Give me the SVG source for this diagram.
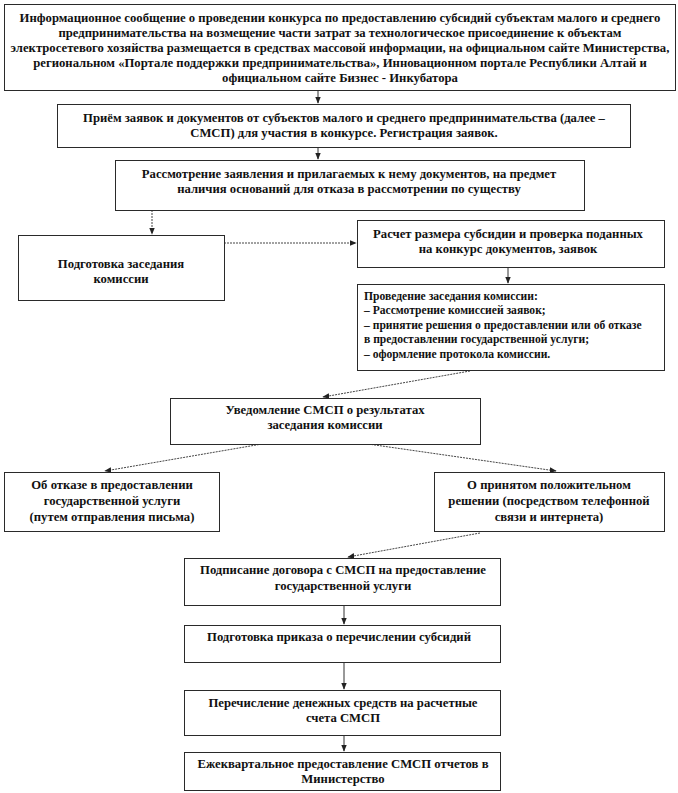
<svg xmlns="http://www.w3.org/2000/svg" width="678" height="793" viewBox="0 0 678 793">
<style>
.box{fill:#fff;stroke:#2a2a2a;stroke-width:1}
.t{font-family:"Liberation Serif","Times New Roman",serif;font-weight:bold;font-size:12.7px;fill:#111}
.s{font-size:11.6px}
.c{text-anchor:middle}
.ln{fill:none;stroke:#333;stroke-width:1}
.dl{fill:none;stroke:#444;stroke-width:1;stroke-dasharray:2 1}
</style>
<defs>
<marker id="ah" viewBox="0 0 10 10" refX="9" refY="5" markerWidth="7" markerHeight="7" orient="auto" markerUnits="userSpaceOnUse">
<path d="M0,1 L10,5 L0,9 Z" fill="#222"/>
</marker>
</defs>
<rect width="678" height="793" fill="#fff"/>
<g id="connectors">
<line class="ln" x1="318" y1="91" x2="318" y2="103" marker-end="url(#ah)"/>
<line class="ln" x1="318" y1="148" x2="318" y2="159" marker-end="url(#ah)"/>
<polyline class="dl" points="152,210 152,234" marker-end="url(#ah)"/>
<line class="dl" x1="224" y1="243" x2="356" y2="243" marker-end="url(#ah)"/>
<line class="ln" x1="508" y1="268" x2="508" y2="283" marker-end="url(#ah)"/>
<line class="dl" x1="470" y1="371" x2="323" y2="397" marker-end="url(#ah)"/>
<line class="dl" x1="262" y1="444" x2="105" y2="471" marker-end="url(#ah)"/>
<line class="dl" x1="368" y1="444" x2="556" y2="471" marker-end="url(#ah)"/>
<line class="dl" x1="480" y1="533" x2="348" y2="557" marker-end="url(#ah)"/>
<line class="ln" x1="344" y1="605" x2="344" y2="624" marker-end="url(#ah)"/>
<line class="ln" x1="344" y1="662" x2="344" y2="689" marker-end="url(#ah)"/>
<line class="ln" x1="344" y1="735" x2="344" y2="751" marker-end="url(#ah)"/>
</g>
<g id="n1">
<rect class="box" x="4.5" y="4.5" width="671" height="86"/>
<text class="t c" x="340" y="22">Информационное сообщение о проведении конкурса по предоставлению  субсидий субъектам малого и среднего</text>
<text class="t c" x="340" y="37">предпринимательства  на возмещение части затрат за технологическое  присоединение к объектам</text>
<text class="t c" x="340" y="52">электросетевого хозяйства  размещается в средствах  массовой информации, на официальном сайте Министерства,</text>
<text class="t c" x="340" y="67">региональном «Портале поддержки предпринимательства»,  Инновационном портале Республики Алтай и</text>
<text class="t c" x="340" y="82">официальном сайте Бизнес - Инкубатора</text>
</g>
<g id="n2">
<rect class="box" x="57.5" y="104.5" width="573" height="43"/>
<text class="t c" x="344" y="122">Приём заявок и документов от субъектов малого и среднего предпринимательства  (далее –</text>
<text class="t c" x="344" y="137">СМСП)  для участия в конкурсе. Регистрация заявок.</text>
</g>
<g id="n3">
<rect class="box" x="115.5" y="160.5" width="469" height="50"/>
<text class="t c" x="349" y="178">Рассмотрение заявления и прилагаемых к нему документов, на предмет</text>
<text class="t c" x="349" y="193">наличия оснований для отказа в рассмотрении по существу</text>
</g>
<g id="n4">
<rect class="box" x="18.5" y="235.5" width="206" height="65"/>
<text class="t c" x="121" y="268">Подготовка  заседания</text>
<text class="t c" x="121" y="283">комиссии</text>
</g>
<g id="n5">
<rect class="box" x="357.5" y="220.5" width="307" height="47"/>
<text class="t c" x="508" y="238">Расчет размера субсидии и проверка  поданных</text>
<text class="t c" x="508" y="253">на конкурс документов,  заявок</text>
</g>
<g id="n6">
<rect class="box" x="357.5" y="284.5" width="307" height="86"/>
<text class="t s" x="364" y="300">Проведение заседания комиссии:</text>
<text class="t s" x="364" y="314">– Рассмотрение комиссией  заявок;</text>
<text class="t s" x="364" y="329">– принятие решения о предоставлении или об отказе</text>
<text class="t s" x="364" y="343">в предоставлении  государственной услуги;</text>
<text class="t s" x="364" y="358">– оформление протокола комиссии.</text>
</g>
<g id="n7">
<rect class="box" x="170.5" y="398.5" width="310" height="46"/>
<text class="t c" x="325" y="414">Уведомление  СМСП  о результатах</text>
<text class="t c" x="325" y="429">заседания комиссии</text>
</g>
<g id="n8">
<rect class="box" x="4.5" y="472.5" width="215" height="59"/>
<text class="t c" x="112" y="489">Об отказе в предоставлении</text>
<text class="t c" x="112" y="505">государственной  услуги</text>
<text class="t c" x="112" y="521">(путем отправления письма)</text>
</g>
<g id="n9">
<rect class="box" x="434.5" y="472.5" width="230" height="59"/>
<text class="t c" x="549" y="489">О принятом положительном</text>
<text class="t c" x="549" y="505">решении  (посредством телефонной</text>
<text class="t c" x="549" y="521">связи и интернета)</text>
</g>
<g id="n10">
<rect class="box" x="184.5" y="558.5" width="316" height="47"/>
<text class="t c" x="343" y="574">Подписание  договора с СМСП  на предоставление</text>
<text class="t c" x="343" y="590">государственной услуги</text>
</g>
<g id="n11">
<rect class="box" x="184.5" y="625.5" width="316" height="37"/>
<text class="t c" x="339" y="641">Подготовка  приказа о перечислении субсидий</text>
</g>
<g id="n12">
<rect class="box" x="184.5" y="690.5" width="316" height="45"/>
<text class="t c" x="343" y="707">Перечисление  денежных  средств  на расчетные</text>
<text class="t c" x="343" y="722">счета СМСП</text>
</g>
<g id="n13">
<rect class="box" x="184.5" y="752.5" width="316" height="38"/>
<text class="t c" x="343" y="768">Ежеквартальное  предоставление  СМСП  отчетов  в</text>
<text class="t c" x="343" y="783">Министерство</text>
</g>
</svg>
